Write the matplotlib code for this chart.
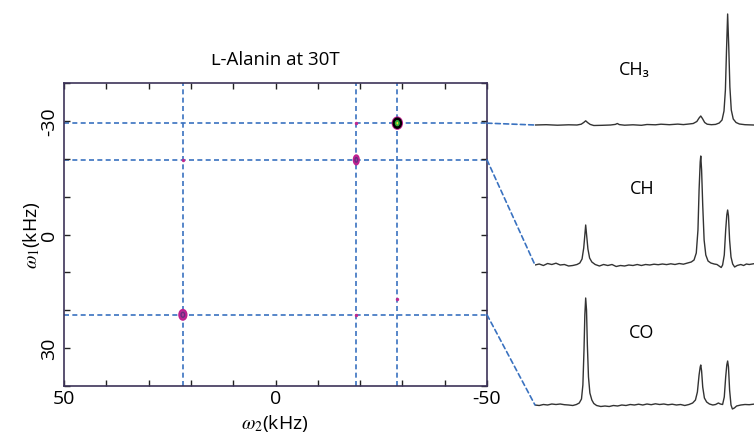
import matplotlib.pyplot as plt
import numpy as np
from matplotlib.patches import ConnectionPatch, Ellipse

plt.rcParams['font.family'] = ['Open Sans', 'DejaVu Sans']
plt.rcParams['mathtext.fontset'] = 'stix'

# peak positions (kHz), order: CO, CH, CH3
names = ['CO', 'CH', 'CH₃']
w2_peaks = [21.9, -19.1, -28.8]
w1_peaks = [21.2, -19.7, -29.4]

# small cross peaks (w2, w1)
cross_w2 = [21.9, -19.1, -19.1, -28.8]
cross_w1 = [-19.7, 21.2, -29.4, 17.0]

# 1D traces: (kHz, intensity)
co_trace = [(40, 0), (38.5, -0.5), (37, 0.5), (35.5, 0), (34, 1), (32.5, 0.5), (31, 1), (29.5, 0.3),
            (28, 0), (26.5, -0.5), (25.2, 0.5), (24.2, 2), (23.4, 6), (22.9, 20), (22.5, 55), (22.2, 90),
            (21.9, 107), (21.6, 95), (21.3, 60), (20.9, 28), (20.4, 12), (19.7, 5), (19, 1.5), (18, -0.5),
            (16.5, -1.5), (15, -1), (13.5, -1.5), (12, -0.5), (10.5, -1), (9, 0), (7.5, -0.5), (6, 0.5),
            (4.5, 0), (3, 0.8), (1.5, 0), (0, 1), (-1.5, 0.3), (-3, 1.2), (-4.5, 0.5), (-6, 1), (-7.5, 0.2),
            (-9, 0.8), (-10.5, 0), (-12, 0.5), (-13.5, -0.5), (-15, 0.5), (-16.3, 2), (-17.3, 5), (-18.0, 13),
            (-18.6, 30), (-19.0, 38), (-19.2, 40), (-19.5, 34), (-19.9, 18), (-20.5, 7), (-21.3, 3),
            (-22.3, 1), (-23.5, 0), (-24.5, 0.5), (-25.5, 2), (-26.2, 1), (-27, 0.5), (-27.6, 8), (-28.1, 28),
            (-28.5, 40), (-28.8, 44), (-29.1, 38), (-29.5, 15), (-30.0, 0), (-30.5, -4), (-31.2, -3),
            (-32, -1), (-33.5, 0), (-35, 0.5), (-36.5, 0.3), (-38, 0.8)]

ch_trace = [(40, 0), (38.5, 1), (37, -0.5), (35.5, 1.5), (34, 0.5), (32.5, 1.8), (31, 0), (29.5, 0.5),
            (28, -1), (26.5, -0.5), (25, 0.5), (24, 2), (23.2, 6), (22.6, 17), (22.2, 30), (21.9, 40),
            (21.6, 31), (21.1, 16), (20.5, 7), (19.7, 3), (18.5, 0.5), (17, -1), (15.5, 0.5), (14, -0.5),
            (12.5, 0.5), (11, -1.5), (9.5, -0.5), (8, -1), (6.5, 0), (5, -0.5), (3.5, 0.5), (2, -0.5),
            (0.5, 0.5), (-1, 0), (-2.5, 0.8), (-4, 0.3), (-5.5, 1), (-7, 0.4), (-8.5, 1.2), (-10, 0.5),
            (-11.5, 1.5), (-13, 0.8), (-14.5, 2), (-15.8, 3), (-16.8, 5), (-17.6, 12), (-18.2, 35),
            (-18.6, 75), (-19.0, 103), (-19.2, 109), (-19.5, 95), (-19.9, 60), (-20.4, 25), (-21.0, 10),
            (-21.8, 4), (-22.8, 2), (-24, 1), (-25, 0.5), (-26, -1.5), (-26.5, -2.5), (-27.0, 0),
            (-27.6, 10), (-28.1, 35), (-28.5, 50), (-28.8, 55), (-29.1, 49), (-29.5, 25), (-30.0, 8),
            (-30.6, 1), (-31.3, -2), (-32.2, -0.5), (-33.5, 0.5), (-34.5, -0.5), (-35.5, 1), (-36.5, 0.5),
            (-38, 1.2)]

ch3_trace = [(40, 0), (36, 0.3), (32, -0.2), (28, 0.2), (25, 0), (23.5, 0.8), (22.6, 2.5), (21.9, 4.2),
             (21.2, 2.4), (20.3, 0.6), (19, -0.5), (16, -0.3), (13, 0), (11.3, 0.6), (10.6, 1.5), (9.9, 0.4),
             (8, -0.2), (5, 0.2), (2, -0.3), (0, 0.5), (-3, 0.2), (-5, 0.8), (-8, 0.3), (-11, 0.9),
             (-13, 0.4), (-15, 1.0), (-16.5, 1.5), (-17.8, 3.5), (-18.6, 7), (-19.2, 9), (-19.8, 6.5),
             (-20.6, 2.5), (-21.5, 0.8), (-23, 0.3), (-24.5, 0.6), (-25.8, 2), (-26.8, 5), (-27.5, 14),
             (-28.0, 35), (-28.4, 75), (-28.8, 111), (-29.2, 78), (-29.6, 38), (-30.1, 15), (-30.8, 6),
             (-31.8, 2.5), (-33, 1), (-35, 0.3), (-38, 0)]

traces = [co_trace, ch_trace, ch3_trace]

W, H = 754, 435
fig = plt.figure(figsize=(W / 100, H / 100), dpi=100)

def px_rect(left, top, right, bottom):
    return [left / W, 1 - bottom / H, (right - left) / W, (bottom - top) / H]

frame_col = '#3d3359'
dash_col = '#3a72c0'
dash = (0, (3, 2))

ax = fig.add_axes(px_rect(64, 84, 487, 387))
ax.set_xlim(50, -50)
ax.set_ylim(40, -40)
ticks = np.arange(-50, 51, 10)
ax.set_xticks(ticks)
ax.set_xticklabels([str(t) if t in (-50, 0, 50) else '' for t in ticks])
yticks = np.arange(-40, 41, 10)
ax.set_yticks(yticks)
ax.set_yticklabels([str(t) if t in (-30, 0, 30) else '' for t in yticks], rotation=90, va='center')
ax.tick_params(direction='in', length=4, width=1, color='#222222', top=True, right=True,
               labelsize=14, pad=4)
ax.tick_params(axis='x', pad=2)
for s in ax.spines.values():
    s.set_color(frame_col)
    s.set_linewidth(1.2)
ax.set_ylabel(r'$\omega_1$(kHz)', fontsize=14, labelpad=-1)
ax.set_title('ʟ-Alanin at 30T', fontsize=13.5, pad=14)
fig.text(275 / W, 1 - 424 / H, r'$\omega_2$(kHz)', fontsize=14, ha='center', va='center')

for x in w2_peaks:
    ax.axvline(x, color=dash_col, lw=1.2, ls=dash, zorder=1)
for y in w1_peaks:
    ax.axhline(y, color=dash_col, lw=1.2, ls=dash, zorder=1)

# cross peaks
ax.scatter(cross_w2, cross_w1, s=6, color='#c0288f', zorder=3, linewidths=0)

# diagonal peak contours
blob = [(1.7, 2.6), (1.2, 2.4), (2.2, 3.0)]
for x, y, (bw, bh) in zip(w2_peaks, w1_peaks, blob):
    ax.add_patch(Ellipse((x, y), bw, bh, facecolor='#b03a9a', edgecolor='#c0208f', lw=1.5, zorder=4))
    ax.add_patch(Ellipse((x, y), bw * 0.5, bh * 0.5, facecolor='none', edgecolor='#6a2a80', lw=1, zorder=5))
x, y = w2_peaks[2], w1_peaks[2]
ax.add_patch(Ellipse((x, y), 1.6, 2.3, facecolor='none', edgecolor='black', lw=2, zorder=6))
ax.add_patch(Ellipse((x, y), 0.8, 1.2, facecolor='#e8e030', edgecolor='#30b040', lw=1.2, zorder=7))

# 1D spectra
baselines = [406, 266, 126]
label_pos = [(642, 333), (642, 189), (634, 70)]
for tr, base, name, (lx, ly) in zip(traces, baselines, names, label_pos):
    sax = fig.add_axes(px_rect(535, base - 122, 535 + 224, base + 8))
    sax.set_xlim(40, -40)
    sax.set_ylim(-8, 122)
    sax.axis('off')
    sax.patch.set_alpha(0)
    xs = [p[0] for p in tr]
    ys = [p[1] for p in tr]
    sax.plot(xs, ys, color='#333333', lw=1.0)
    fig.text(lx / W, 1 - ly / H, name, ha='center', va='center', fontsize=13)
    w1 = w1_peaks[names.index(name)]
    con = ConnectionPatch(xyA=(-50, w1), coordsA=ax.transData, xyB=(40, 0), coordsB=sax.transData,
                          color=dash_col, lw=1.2, ls=dash)
    fig.add_artist(con)

fig.savefig('out.png', dpi=100)
